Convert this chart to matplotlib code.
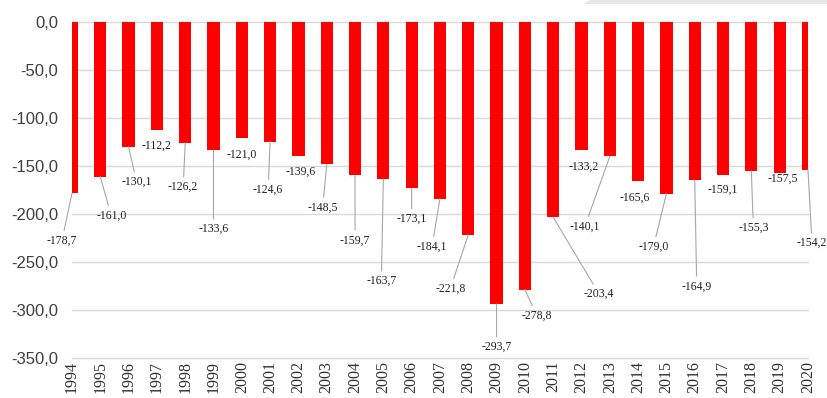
import matplotlib
matplotlib.use("Agg")
import matplotlib.pyplot as plt
import matplotlib.patches as patches

# Annual balance values, 1994-2020
years = [str(y) for y in range(1994, 2021)]
values = [-178.7, -161.0, -130.1, -112.2, -126.2, -133.6, -121.0, -124.6,
          -139.6, -148.5, -159.7, -163.7, -173.1, -184.1, -221.8, -293.7,
          -278.8, -203.4, -133.2, -140.1, -165.6, -179.0, -164.9, -159.1,
          -155.3, -157.5, -154.2]

# Label placement relative to the end of each bar (pixels, +dy = downwards)
label_dx = [-10, 11, 8, 0, -2, 0, 0, -2, 2, -4, 0, -2, 0, -8, -18, 0,
            12, 46, 2, -25, -3, -13, 2, 0, 2, 3, 4]
label_dy = [47, 39, 35, 16, 44, 79, 17, 48, 16, 43, 65, 102, 31, 48, 54, 43,
            26, 77, 17, 70, 17, 53, 106, 15, 57, 6, 73]


def fmt(v):
    return f"{v:.1f}".replace(".", ",")


fig = plt.figure(figsize=(8.27, 3.98), dpi=100)
ax = fig.add_axes([0.087, 0.1005, 0.890, 0.8445])

x = list(range(len(years)))
ax.bar(x, values, width=0.43, color="#ff0000", zorder=2)

ax.set_xlim(0, len(years) - 1)
ax.set_ylim(-350, 0)
yt = list(range(-350, 1, 50))
ax.set_yticks(yt)
ax.set_yticklabels([fmt(t) for t in yt],
                   fontsize=12, color="#404040", family="Liberation Sans")
ax.set_xticks(x)
ax.set_xticklabels(years, rotation=90, fontsize=11.5, color="#303030",
                   family="Liberation Serif")
ax.tick_params(axis="y", length=0, pad=10)
ax.tick_params(axis="x", length=0, pad=2)

# horizontal grid, drawn unclipped so the edge lines stay whole
for t in yt:
    ax.axhline(t, color="#d9d9d9", linewidth=1.0, zorder=0, clip_on=False)
for s in ax.spines.values():
    s.set_visible(False)

# value labels with leader lines
for i, v in enumerate(values):
    dx, dy = label_dx[i], label_dy[i]
    long_leader = dy > 22
    ax.annotate(fmt(v), xy=(i, v), xytext=(dx, -dy),
                textcoords="offset pixels", ha="center", va="center",
                fontsize=8.5, family="Liberation Serif", color="#202020",
                annotation_clip=False, zorder=3,
                arrowprops=dict(arrowstyle="-", color="#a6a6a6", lw=0.8,
                                shrinkA=1, shrinkB=0) if long_leader else None)

# grey band along the top right edge
band = patches.Polygon([(583, 394), (590, 398), (827, 398), (827, 394)],
                       closed=True, transform=None, facecolor="#e6e6e6",
                       edgecolor="none")
fig.patches.append(band)

fig.savefig("out.png", dpi=100)
